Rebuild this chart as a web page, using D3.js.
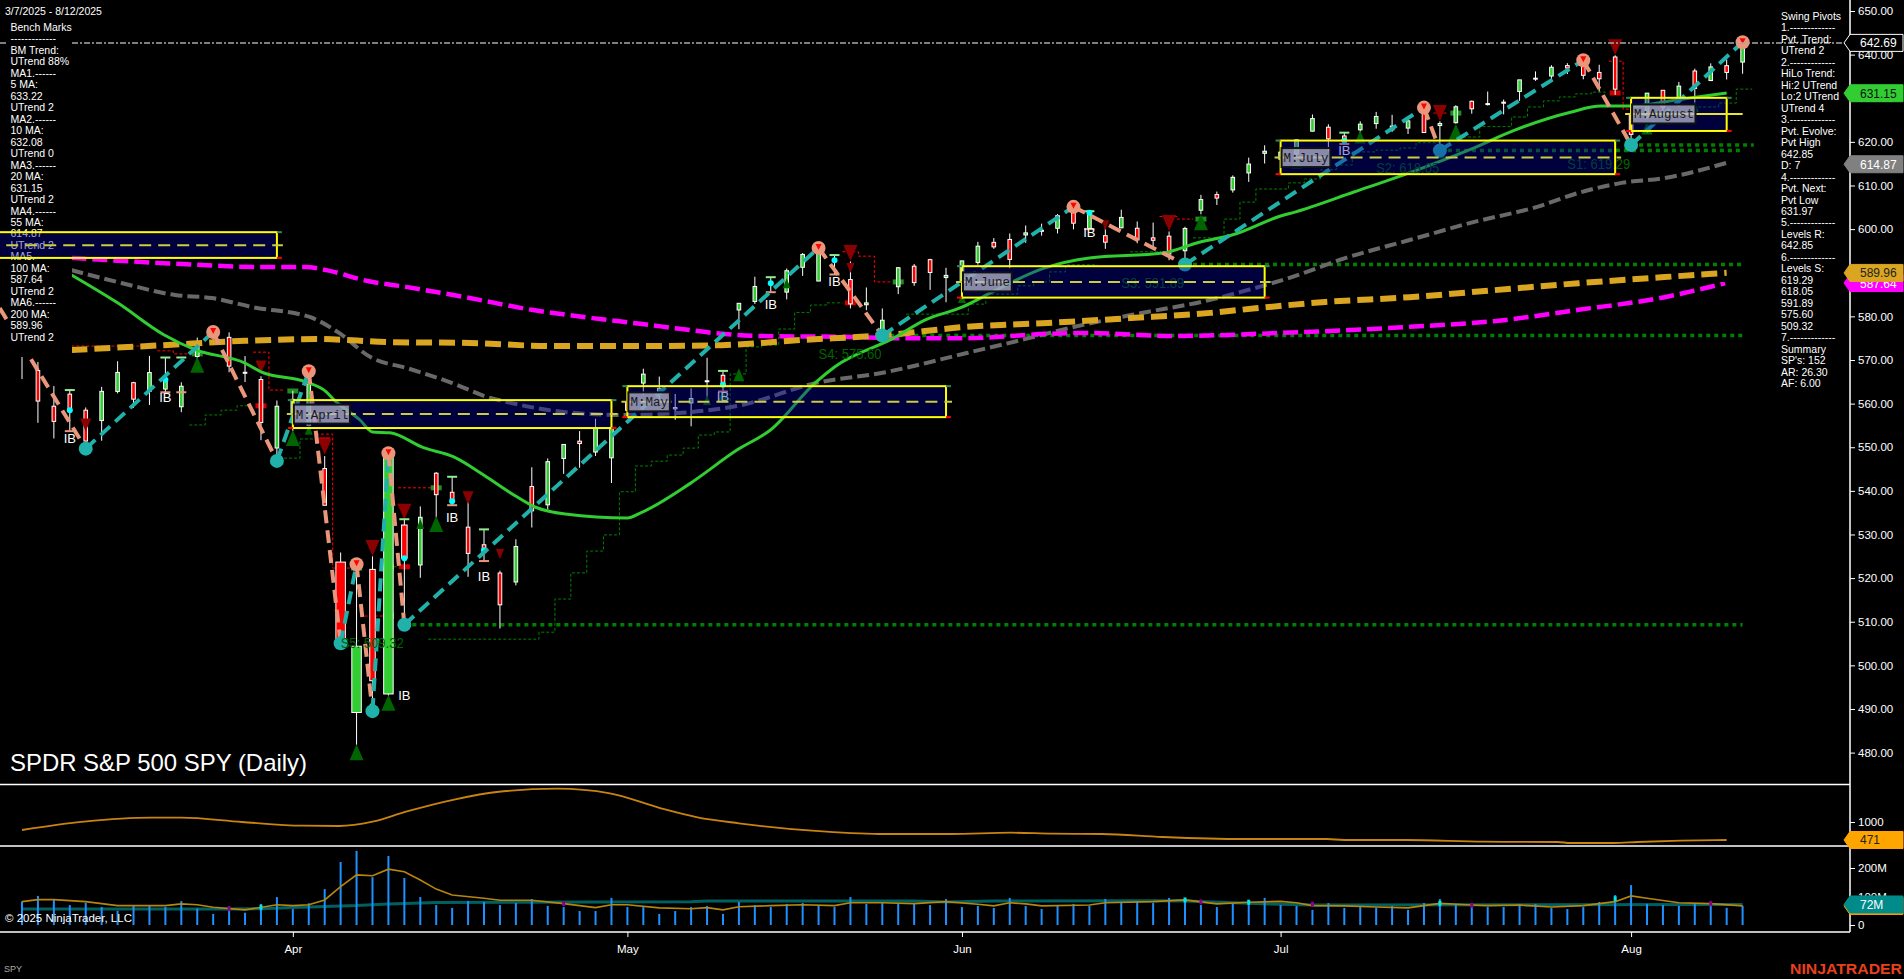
<!DOCTYPE html>
<html lang="en">
<head>
<meta charset="UTF-8">
<title>SPDR S&amp;P 500 SPY (Daily)</title>
<script src="https://d3js.org/d3.v7.min.js"></script>
<style>
    html, body { margin: 0; padding: 0; background: #000; overflow: hidden; }
    svg { display: block; }
    text { font-family: "Liberation Sans", Arial, sans-serif; fill: #fff; }
    .domain { display: none; }
    .tick line { stroke: #fff; }
    .tick text { font-family: "Liberation Sans", Arial, sans-serif; font-size: 11.5px; fill: #fff; }
</style>
</head>
<body>
<script>
// daily bars, 3/7/2025 - 8/12/2025
const opens = [570.9,567.59,559.4,562.17,558.49,556.11,562.79,564.8,562.83,563.33,559.28,570.8,575.3,575.19,567.18,565.53,549.83,557.45,555.05,545.11,523.67,489.19,522,493.44,532.17,523.01,544.05,539.67,531.68,527.64,521.16,519.11,541,536.8,547.41,551.39,548.9,547.57,560.37,564.7,562.17,559.1,560.15,565.24,566.5,581.47,583.41,587.81,585.56,591.25,588.1,593.09,588.44,582.66,575.98,586.79,591.49,593,588.9,587.76,592.34,596.96,597.63,598.66,599.72,600.18,604.98,600.01,598.5,600.3,600.2,598,598.38,595.04,604.33,607.91,608.99,612.88,617.38,616.04,617.24,622.45,623.36,621.35,622.77,624.2,622.74,623.16,627.52,623.74,624.4,629.3,628.77,629.1,631.55,634.6,635.09,637.48,638.35,635.92,639.46,626.3,625.67,631.82,629.2,636.25,634.06,637.47,638.29];
const highs = [577.39,569.54,564.02,563.11,559.11,563.83,569.71,564.99,570.95,570.57,564.89,575.15,576.41,576.33,570.9,566.27,560.71,562.94,567.42,547.97,525.87,523.17,524.98,548.62,533.5,536.43,544.28,543.23,537.89,531.17,521.7,528.91,545.4,547.43,550.69,553.7,556.52,557.5,563.95,568,566.2,562.2,563.5,570.5,567.5,583,589.08,588.98,590.97,594.5,594.99,594.05,592.6,586.62,581.82,591.31,592,593.2,591.13,592.79,597.08,597.95,599,600.83,601.25,603.47,605.9,604.1,601.85,604.45,601.75,601.5,599.46,600.54,607.85,608.61,612.31,616.39,619.22,618.83,620.49,626.28,624.03,622.11,624.72,626.87,626.2,625.16,627.86,624.73,628.4,629.47,631.54,629.7,634.21,636.15,637.58,638.04,638.67,637.68,639.85,626.34,631.22,631.91,633.74,636.79,638,638.9,642.85];
const lows = [565.63,555.59,552.02,553.69,549.68,551.49,562.35,559,559.67,562.6,558.03,570.2,573.69,567.19,564.94,551.61,546.87,553.68,554.81,536.7,505.06,481.8,489.5,493,509.32,520.07,533.88,536.71,520.29,523.91,508.46,518.33,531.6,535.7,543.9,545.3,548,541.8,557,562,561,556.3,554.8,560.8,562.76,577.04,582.84,585.54,583.88,589.28,588.09,589.6,581.82,581.41,575.6,585.1,586.99,586.07,583.24,585.06,591.85,595.49,591.05,596.86,598.5,599,599.95,600,595.48,600.22,596.76,595.9,592.86,591.89,603.41,605.54,608.37,610.83,615.04,615.52,616.61,622.43,617.87,619.52,620.91,623.01,622.3,621.8,622.1,618.05,624.18,626.46,628.34,626.3,629.4,633.99,634.2,635.54,634.34,631.54,630.77,619.29,625.27,627,628,629,633.92,634.3,635.62];
const closes = [575.72,560.58,555.92,558.47,551.42,562.81,567.15,561.02,567.13,565.49,563.98,574.08,575.46,568.59,567.08,555.66,559.39,560.97,564.52,536.7,505.28,504.38,496.48,548.62,524.58,533.94,539.12,537.61,525.66,526.41,513.88,527.25,535.42,546.69,550.64,550.85,554.32,554.54,558.47,566.76,563.51,558.8,561.15,565.06,564.34,582.99,586.84,587.59,590.46,594.2,594.85,592.85,582.86,583.09,579.11,591.15,587.73,590.05,589.39,592.71,596.09,595.93,593.05,599.14,599.68,603.08,601.36,603.75,597,602.68,597.53,597.44,594.28,600.15,606.78,607.12,611.87,614.91,617.85,617.65,620.45,625.34,620.68,620.34,624.06,625.82,623.62,624.81,622.14,624.22,628.04,627.58,628.77,628.86,634.21,634.42,637.1,636.94,635.26,634.46,632.08,621.72,631.17,627.97,632.78,632.25,637.18,635.92,642.69];
// wider bodies on the big range days: [bar, width]
const wideBars = [[20,9.5],[21,9.5],[22,5.5],[23,9.5],[24,5.5]];
// inside bars with the price their IB tag sits at
const insideBars = [[3,552.1],[9,561.5],[24,493.2],[27,534],[29,520.5],[44,561.7],[47,582.8],[51,588.1],[67,599.3],[83,618.1]];
const extraCaps = [[10,570.57,562.6]];

const volumes = [83,102,90,70,78,63,50,67,67,63,84,58,39,50,43,74,98,56,76,126,221,260,168,242,165,98,70,60,84,81,70,77,91,67,63,49,49,95,63,63,39,49,63,67,39,81,70,63,74,77,70,63,98,74,77,74,74,70,91,63,67,60,95,67,56,67,74,67,91,81,84,77,95,88,70,63,77,88,95,70,67,53,77,60,67,60,67,53,77,91,70,67,63,63,74,74,60,56,63,81,105,140,74,70,67,77,70,60,67];
const volAvg = [[0,82],[1,89],[2,89],[4,82],[6,68],[9,68],[10,74],[11,71],[12,62],[14,53],[16,71],[17,68],[18,71],[19,88],[20,135],[21,176],[22,173],[23,196],[24,187],[25,158],[26,126],[27,105],[29,94],[30,87],[32,87],[34,75],[36,61],[37,71],[38,71],[40,60],[42,57],[43,61],[44,53],[45,64],[47,68],[49,71],[51,68],[52,78],[54,78],[56,75],[58,82],[60,73],[61,67],[62,78],[63,74],[64,67],[67,70],[68,78],[71,82],[73,88],[75,74],[77,80],[79,83],[80,78],[81,68],[83,67],[85,63],[87,60],[89,76],[91,70],[92,68],[94,70],[96,63],[98,68],[100,82],[101,102],[102,94],[104,78],[106,75],[108,67]];
const volBase = [[0,56],[13,56],[15,57],[17,61],[21,68],[23,74],[26,79],[42,82],[43,84],[56,84],[58,81],[61,84],[71,85],[73,84],[77,76],[81,70],[108,72]];
const volPurple = [13,34,74,81,91,106];
const volCyan = [15,73,77,89,100];
const indicator = [[0,765],[3.9,1009],[8.1,1126],[10,1126],[13.8,1000],[17.6,891],[19.9,882],[22,1009],[24.1,1303],[27.2,1668],[29.8,1882],[33.6,1979],[36.9,1844],[40.1,1403],[42.4,1138],[45,962],[49.6,744],[53.8,647],[58.3,647],[62.1,685],[64.7,656],[67.8,647],[71.6,559],[76.6,500],[81.9,500],[83,471],[86.9,471],[91.8,421],[96.4,412],[97.2,382],[99.9,382],[101.4,412],[104.1,450],[107,471]];

const ma20 = [[3.1,589.5],[6,583.1],[8.9,575.8],[10.9,572.3],[14,569.3],[15,567.3],[17.8,565],[19.1,562.7],[19.6,560.8],[21.2,556.3],[22,553.5],[23.1,553.3],[25.2,549.9],[27.1,547.8],[29,543.6],[30.9,539],[32.2,536.3],[34.1,534.7],[38,533.8],[38.8,534.9],[41.9,541.6],[44.9,549.4],[47,554],[49.8,564.8],[51,568.4],[54.7,575],[56.7,579.2],[59,582.1],[60.8,585.4],[64.2,591.1],[67,593.4],[71.6,594.5],[73.9,597],[76,598.7],[79,603],[79.9,603.9],[83.6,608.5],[87.6,613.6],[90.8,618.1],[93.7,622.7],[97.2,626.8],[99.1,628.2],[101,628.2],[103.8,629.6],[107,631.2]];
const ma55 = [[3.1,590.6],[6.3,587.6],[9.6,584.9],[11.9,584.2],[14.5,582.1],[18.1,579.8],[19.9,576.2],[21.9,570.6],[24.2,568.1],[26.8,565],[29.4,561.3],[30.4,560.4],[34.5,557.9],[37.8,557.4],[41.4,557.9],[45.2,559.7],[49.8,564.7],[54.2,567.2],[59.3,571.6],[63.2,575],[65.7,577.3],[69.6,580.3],[74.6,583.8],[76.5,585.6],[79.7,589],[83.1,593.4],[87.1,597.5],[91.1,601.6],[95.1,605.1],[97.7,608.3],[100.4,610.6],[103.1,611.7],[107,615.2]];
const ma100 = [[3.1,593.4],[8.9,592.2],[15.3,591.3],[17.8,591.3],[19.1,590.6],[21.7,588.1],[24.2,586.7],[28.1,584.2],[32,581.5],[35.8,579.6],[38.8,578.3],[41.4,577.1],[43.9,576],[46.5,575.5],[51.6,575.3],[55.2,575],[59.3,575],[64.4,576],[67,576.2],[72.1,575.5],[79,576.2],[81.8,576.6],[87.1,577.6],[92.4,578.9],[97.7,581.5],[103.1,584.4],[106.9,587.6]];
const ma200 = [[3.1,572.3],[8.9,573.4],[14,574.4],[18.6,574.8],[23,574.1],[28.1,573.9],[33.2,573.2],[38.8,573.2],[43.9,573.4],[49,574.6],[54.2,575.7],[59.3,577.6],[64.4,578.5],[69.6,579.6],[74.6,580.8],[76.5,581.5],[81.8,583.3],[87.1,584.4],[92.4,586],[97.7,587.6],[103.1,589],[107,590]];

// swing pivots, high/low alternate
const pivots = [[-1.4,581.9],[4,549.68],[12,576.41],[16,546.87],[18,567.42],[20,505.06],[21,523.17],[22,489.5],[23,548.62],[24,509.32],[50,595.7],[54,575.6],[66,605.1],[73,591.89],[88,627.86],[89,618.05],[98,638.7],[101,619.29],[108,642.85]];
// support levels: price, first bar, last bar
const supports = [[509.32,24,108],[575.6,54,108],[591.89,73,108],[618.05,89,108],[619.29,101,108.7]];
const supportLabels = [["S5: 509.32",20,504],["S4: 575.60",50,570.2],["S3: 591.89",69,586.5],["S2: 618.05",85,612.9],["S1: 619.29",97,613.8]];

const stopRuns = [
    [[10.5,555.1],[11.5,557.4],[12.5,558.5],[13.5,559.5],[14.25,559.5]],
    [[16.45,547.5],[17.45,551.9],[18.45,551.9]],
    [[22.7,522.6],[23.7,522.6]],
    [[25.5,506],[32.45,507.6],[33.45,515.2],[34.45,521.2],[35.45,526.2],[36.5,529.9],[37.5,539.8],[38.5,545.7],[39.5,546.8],[40.5,548.2],[41.5,549.8],[42.45,552.8],[43.45,553.5],[44.45,566.8],[45.45,573],[46.45,573.4],[47.5,577.1],[48.5,580.9],[49.5,582.6],[50.5,583.1],[51.5,583.1]],
    [[55.5,580.5],[59.4,582.8],[60.5,585.1],[62.5,587],[63.5,587.9],[64.5,590.2],[65.5,591.8],[67.5,591.8]],
    [[69.55,594.8],[71.5,594.8]],
    [[73.5,598],[75.45,602.3],[76.45,606.2],[77.45,609.2],[79.5,610.6],[80.5,611.5],[81.5,613.6],[82.5,614.7],[83.5,617.7],[85,618.1],[86.5,618.6],[87.5,619.8],[89,619.8]],
    [[90.45,621.1],[91.5,623.5],[93.5,625.7],[94.5,628],[95.5,629.4],[96.5,630.3],[97.5,631],[98.5,631.4],[99.4,631.4]],
    [[104.9,628],[106.5,628.9],[107.6,632.1],[108.6,632.1]]
];
const exitRuns = [
    [[3.1,573.2],[7.4,573.2]],
    [[8.5,572.1],[9.5,571.4],[10.5,571.4]],
    [[14.5,571.8],[15.5,563.1],[16.5,563.1]],
    [[18.45,553],[19.5,522.3],[20.9,522.3]],
    [[21.5,511.3],[23,511.3]],
    [[23.6,540.7],[25.7,540.7]],
    [[51.5,594.8],[52.5,593.8],[53.5,587.9],[54.6,587.9]],
    [[71.4,602.9],[72.5,602.3],[73.5,602.3]],
    [[88.6,626.6],[89.5,626.6]],
    [[99.6,638.5],[100.5,627.5],[101,627.5]]
];
// [bar, price, size] size 0 small, 1 medium, 2 big
const upMarks = [[4,550.3,0],[11,568.9,2],[16,546.6,0],[17,552.1,2],[18,554,0],[21,480.1,2],[23,491.4,2],[25,532.4,0],[26,532.4,2],[43,560.8,0],[44,561.7,1],[45,566.6,1],[48,587.6,0],[59,584.2,0],[74,601.6,2],[80,615.4,1],[84,621.1,1],[89,617.7,1],[90,622.3,2],[102,623.2,1],[105,628,0]];
const downMarks = [[4,555.1,1],[15,568.4,1],[19,550.1,2],[22,526.9,2],[24,535.2,2],[28,538.4,1],[30,525.5,0],[52,594.5,2],[52,591.1,0],[68,600.9,0],[72,601.4,2],[89,626.6,2],[100,641.7,2]];
const greenSquares = [[11,571.4],[17,562.9],[21,522.3],[23,522.6],[23,511.3],[26,540.7],[55,587.9],[74,602.3],[90,626.6]];
const redSquares = [[15,559.5],[19,551.7],[24,522.6],[52,583.1],[100,631.2]];

// monthly ranges: name, first bar, last bar, high, mid, low
const monthNames = ["March","April","May","June","July","August"];
const monthFirst = [-3,17,38,59,79,101];
const monthLast = [16,37,58,78,100,107];
const monthHigh = [599.3,560.8,564,591.5,620.3,630.1];
const monthMid = [596.3,557.6,560.4,587.9,616.4,626.4];
const monthLow = [593.4,554.4,556.9,584.3,612.6,622.5];

const priceTicks = d3.range(480, 651, 10);
const monthTicks = [["Apr",17],["May",38],["Jun",59],["Jul",79],["Aug",101]];
const benchText = ["Bench Marks","-------------","BM Trend:","UTrend 88%","MA1.------","5 MA:","633.22","UTrend 2","MA2.------","10 MA:","632.08","UTrend 0","MA3.------","20 MA:","631.15","UTrend 2","MA4.------","55 MA:","614.87","UTrend 2","MA5.------","100 MA:","587.64","UTrend 2","MA6.------","200 MA:","589.96","UTrend 2"];
const pivotText = ["Swing Pivots","1.-------------","Pvt. Trend:","UTrend 2","2.-------------","HiLo Trend:","Hi:2 UTrend","Lo:2 UTrend","UTrend 4","3.-------------","Pvt. Evolve:","Pvt High","642.85","D: 7","4.-------------","Pvt. Next:","Pvt Low","631.97","5.-------------","Levels R:","642.85","6.-------------","Levels S:","619.29","618.05","591.89","575.60","509.32","7.-------------","Summary","SP's: 152","AR: 26.30","AF: 6.00"];

const width = 1904, height = 979, axisX = 1850;
const x = d3.scaleLinear().domain([0, 108]).range([22, 1742.6]);
const y = d3.scaleLinear().domain([480, 650]).range([752.6, 11]);
const yInd = d3.scaleLinear().domain([0, 1000]).range([856, 822]);
const yVol = d3.scaleLinear().domain([0, 200]).range([925, 868]);

const svg = d3.select("body").append("svg").attr("width", width).attr("height", height);
svg.append("rect").attr("width", width).attr("height", height).attr("fill", "#000");
svg.append("defs").append("clipPath").attr("id", "pane")
    .append("rect").attr("width", axisX).attr("height", 784);
const pane = svg.append("g").attr("clip-path", "url(#pane)");

const bars = opens.map((o, i) => ({i, o, h: highs[i], l: lows[i], c: closes[i]}));
const bodyWidth = i => { const w = wideBars.find(d => d[0] === i); return w ? w[1] : 3.6; };
const pts = d3.line().x(d => x(d[0])).y(d => y(d[1]));
const smooth = d3.line().x(d => x(d[0])).y(d => y(d[1])).curve(d3.curveMonotoneX);
const steps = d3.line().x(d => x(d[0])).y(d => y(d[1])).curve(d3.curveStepAfter);

// thin step lines under the candles
pane.append("g").selectAll("path").data(stopRuns).join("path")
    .attr("d", steps).attr("fill", "none").attr("stroke", "#008000").attr("stroke-dasharray", "3,2");
pane.append("g").selectAll("path").data(exitRuns).join("path")
    .attr("d", steps).attr("fill", "none").attr("stroke", "#ff0000").attr("stroke-dasharray", "3,2");

// support levels
pane.append("g").selectAll("line").data(supports).join("line")
    .attr("x1", d => x(d[1])).attr("x2", d => x(d[2]))
    .attr("y1", d => y(d[0])).attr("y2", d => y(d[0]))
    .attr("stroke", "#008000").attr("stroke-width", 3.5).attr("stroke-dasharray", "4,4");

// squares sit behind the candles
const square = (data, color) => pane.append("g").selectAll("rect").data(data).join("rect")
    .attr("x", d => x(d[0]) - 5.5).attr("y", d => y(d[1]) - 2.5)
    .attr("width", 11).attr("height", 5).attr("fill", color);
square(greenSquares, "#228b22");
square(redSquares, "#cc0000");

// candles
const candle = pane.append("g").selectAll("g").data(bars).join("g");
candle.append("line")
    .attr("x1", d => x(d.i)).attr("x2", d => x(d.i))
    .attr("y1", d => y(d.h)).attr("y2", d => y(d.l))
    .attr("stroke", "#fff");
candle.append("rect")
    .attr("x", d => x(d.i) - bodyWidth(d.i) / 2)
    .attr("width", d => bodyWidth(d.i))
    .attr("y", d => y(Math.max(d.o, d.c)))
    .attr("height", d => Math.max(1, Math.abs(y(d.o) - y(d.c))))
    .attr("fill", d => d.c >= d.o ? "#32cd32" : "#ff0000")
    .attr("stroke", "#fff");

// triangles
const triSize = [[4, 10], [5.5, 13], [7, 16]];
const triangle = (data, dir, color) => pane.append("g").selectAll("path").data(data).join("path")
    .attr("d", d => {
        const [w, h] = triSize[d[2]], px = x(d[0]), py = y(d[1]);
        return `M${px - w},${py + dir * h / 2}L${px + w},${py + dir * h / 2}L${px},${py - dir * h / 2}Z`;
    })
    .attr("fill", color);
triangle(upMarks, 1, "#006400");
triangle(downMarks, -1, "#8b0000");

// inside bars: caps at high and low, dot at the close, IB tag
const inside = pane.append("g").selectAll("g").data(insideBars).join("g");
const capLine = (sel, bar, price, color) => sel.append("line")
    .attr("x1", d => x(bar(d)) - 5).attr("x2", d => x(bar(d)) + 5)
    .attr("y1", d => y(price(d))).attr("y2", d => y(price(d)))
    .attr("stroke", color).attr("stroke-width", 2);
capLine(inside, d => d[0], d => highs[d[0]], "#90ee90");
capLine(inside, d => d[0], d => lows[d[0]], "#e9967a");
const extra = pane.append("g").selectAll("g").data(extraCaps).join("g");
capLine(extra, d => d[0], d => d[1], "#90ee90");
capLine(extra, d => d[0], d => d[2], "#e9967a");
inside.append("circle").attr("cx", d => x(d[0])).attr("cy", d => y(closes[d[0]])).attr("r", 3).attr("fill", "#00ffff");
inside.append("text").attr("x", d => x(d[0])).attr("y", d => y(d[1]) + 5)
    .attr("text-anchor", "middle").attr("font-size", 13).text("IB");

// moving averages
const maLine = (data, color, w, dash) => pane.append("path").attr("d", smooth(data))
    .attr("fill", "none").attr("stroke", color).attr("stroke-width", w).attr("stroke-dasharray", dash);
maLine(ma55, "#696969", 4, "12,5");
maLine(ma100, "#ff00ff", 4.5, "15,6");
maLine(ma200, "#daa520", 6, "16,7");
maLine(ma20, "#32cd32", 3, null);

// swing legs and pivot dots
const legs = d3.pairs(pivots);
pane.append("g").selectAll("path").data(legs).join("path")
    .attr("d", pts).attr("fill", "none").attr("stroke-width", 4).attr("stroke-dasharray", "13,7")
    .attr("stroke", d => d[1][1] > d[0][1] ? "#20b2aa" : "#e9967a");
const pivotDots = pivots.slice(1).map((d, k) => ({i: d[0], p: d[1], top: k % 2 === 1}));
pane.append("g").selectAll("circle").data(pivotDots).join("circle")
    .attr("cx", d => x(d.i)).attr("cy", d => y(d.p)).attr("r", 7)
    .attr("fill", d => d.top ? "#e9967a" : "#20b2aa");
pane.append("g").selectAll("path").data(pivotDots.filter(d => d.top)).join("path")
    .attr("d", d => `M${x(d.i) - 3},${y(d.p) - 4}L${x(d.i) + 3},${y(d.p) - 4}L${x(d.i)},${y(d.p) + 2}Z`)
    .attr("fill", "#ff0000");

// support labels go over the candles and legs, under the month boxes
pane.append("g").selectAll("text").data(supportLabels).join("text")
    .attr("x", d => x(d[1])).attr("y", d => y(d[2]))
    .attr("font-size", 15).attr("textLength", 63).attr("lengthAdjust", "spacingAndGlyphs")
    .style("fill", "#006400").text(d => d[0]);

// last price line
pane.append("line").attr("x1", 0).attr("x2", axisX)
    .attr("y1", y(closes[closes.length - 1])).attr("y2", y(closes[closes.length - 1]))
    .attr("stroke", "#a9a9a9").attr("stroke-width", 1.5).attr("stroke-dasharray", "6,2,2,2");

// black text boxes on top of the plot
pane.append("rect").attr("x", 8).attr("y", 0).attr("width", 64).attr("height", 357).attr("fill", "#000");
svg.append("rect").attr("x", 0).attr("y", 0).attr("width", 120).attr("height", 18).attr("fill", "#000");
svg.append("text").attr("x", 5).attr("y", 15).attr("font-size", 10.5).text("3/7/2025 - 8/12/2025");
svg.append("g").selectAll("text").data(benchText).join("text")
    .attr("x", 10.5).attr("y", (d, i) => 31 + i * 11.47).attr("font-size", 10.5).text(d => d);
svg.append("g").selectAll("text").data(pivotText).join("text")
    .attr("x", 1781).attr("y", (d, i) => 20 + i * 11.47).attr("font-size", 10.5).text(d => d);

// monthly range boxes, see-through so candles and lines still show
const months = monthNames.map((name, k) => ({name, first: monthFirst[k], last: monthLast[k], hi: monthHigh[k], mid: monthMid[k], lo: monthLow[k]}));
const box = svg.append("g").selectAll("g").data(months).join("g");
box.append("rect")
    .attr("x", d => x(d.first)).attr("width", d => x(d.last) - x(d.first))
    .attr("y", d => y(d.hi)).attr("height", d => y(d.lo) - y(d.hi))
    .attr("fill", "rgba(0,0,170,0.36)").attr("stroke", "#ffff00").attr("stroke-width", 2);
box.append("line")
    .attr("x1", d => x(d.first) - 6).attr("x2", d => x(d.last) + (d.name === "August" ? 16 : 6))
    .attr("y1", d => y(d.mid)).attr("y2", d => y(d.mid))
    .attr("stroke", d => d.name === "August" ? "#e6e632" : "#cccc44").attr("stroke-width", 2)
    .attr("stroke-dasharray", d => d.name === "August" ? null : "12,7");
// little end ticks at the box corners
[[d => d.hi, "#2e8b57"], [d => d.lo, "#ff0000"]].forEach(([lev, color]) => {
    box.append("line").attr("x1", d => x(d.last)).attr("x2", d => x(d.last) + 5)
        .attr("y1", d => y(lev(d))).attr("y2", d => y(lev(d))).attr("stroke", color).attr("stroke-width", 2);
    box.append("line").attr("x1", d => x(d.first) - 5).attr("x2", d => x(d.first))
        .attr("y1", d => y(lev(d))).attr("y2", d => y(lev(d))).attr("stroke", color).attr("stroke-width", 2);
});
// labels, March has scrolled off to the left
const tagged = box.filter(d => d.name !== "March");
tagged.append("rect")
    .attr("x", d => x(d.first) + 1).attr("y", d => y(d.mid) - 9.5)
    .attr("width", d => 5 + (d.name.length + 2) * 7.3).attr("height", 19)
    .attr("fill", "rgba(175,175,200,0.78)").attr("stroke", "#111").attr("stroke-width", 2);
tagged.append("text")
    .attr("x", d => x(d.first) + 3).attr("y", d => y(d.mid) + 4.5)
    .attr("font-size", 12.5).style("font-family", "'Liberation Mono', monospace").style("fill", "#1a1a1a")
    .text(d => "M:" + d.name);

// indicator pane
svg.append("path").attr("d", d3.line().x(d => x(d[0])).y(d => yInd(d[1])).curve(d3.curveMonotoneX)(indicator))
    .attr("fill", "none").attr("stroke", "#c9830f").attr("stroke-width", 1.8);

// volume pane
svg.append("path").attr("d", d3.line().x(d => x(d[0])).y(d => yVol(d[1]))(volBase))
    .attr("fill", "none").attr("stroke", "#006060").attr("stroke-width", 3);
svg.append("g").selectAll("rect").data(volumes).join("rect")
    .attr("x", (d, i) => x(i) - 1).attr("width", 2)
    .attr("y", d => yVol(d)).attr("height", d => yVol(0) - yVol(d))
    .attr("fill", "#1e90ff");
svg.append("path").attr("d", d3.line().x(d => x(d[0])).y(d => yVol(d[1]))(volAvg))
    .attr("fill", "none").attr("stroke", "#b8860b").attr("stroke-width", 1.6);
const volDot = (list, color) => svg.append("g").selectAll("rect").data(list).join("rect")
    .attr("x", i => x(i) - 1.5).attr("width", 3)
    .attr("y", i => yVol(d3.mean(volAvg.filter(d => Math.abs(d[0] - i) < 2), d => d[1])) - 2.5).attr("height", 5)
    .attr("fill", color);
volDot(volPurple, "#8b008b");
volDot(volCyan, "#00e5e5");

svg.append("text").attr("x", 5).attr("y", 922).attr("font-size", 11.5).text("© 2025 NinjaTrader, LLC");
svg.append("text").attr("x", 10).attr("y", 771).attr("font-size", 24).attr("textLength", 297)
    .attr("lengthAdjust", "spacingAndGlyphs").text("SPDR S&P 500 SPY (Daily)");

// frame
[784.5, 846, 932].forEach(v => svg.append("line").attr("x1", 0).attr("x2", axisX).attr("y1", v).attr("y2", v)
    .attr("stroke", "#fff").attr("stroke-width", 1.5));
svg.append("line").attr("x1", axisX).attr("x2", axisX).attr("y1", 0).attr("y2", 932)
    .attr("stroke", "#fff").attr("stroke-width", 1.5);

// axes
svg.append("g").attr("transform", `translate(${axisX},0)`)
    .call(d3.axisRight(y).tickValues(priceTicks).tickSize(5).tickFormat(d3.format(".2f")));
svg.append("g").attr("transform", `translate(${axisX},0)`)
    .call(d3.axisRight(yInd).tickValues([1000]).tickSize(5).tickFormat(d => d));
svg.append("g").attr("transform", `translate(${axisX},0)`)
    .call(d3.axisRight(yVol).tickValues([0, 100, 200]).tickSize(5).tickFormat(d => d ? d + "M" : "0"));
svg.append("g").attr("transform", "translate(0,932)")
    .call(d3.axisBottom(x).tickValues(monthTicks.map(d => d[1])).tickSize(5)
        .tickFormat(v => monthTicks.find(d => d[1] === v)[0]))
    .selectAll("text").attr("dy", "1.1em");

// price tags on the axis
const tag = (py, fill, ink, label, stroke) => {
    svg.append("path").attr("d", `M${axisX - 6},${py}L${axisX},${py - 8.5}H1903V${py + 8.5}H${axisX}Z`)
        .attr("fill", fill).attr("stroke", stroke || fill);
    if (label) svg.append("text").attr("x", 1860).attr("y", py + 4.5).attr("font-size", 12).style("fill", ink).text(label);
};
tag(y(587.64), "#ff00ff", "#fff", "587.64");
tag(y(589.96), "#daa520", "#222", "589.96");
tag(y(614.87), "#808080", "#fff", "614.87");
tag(y(631.15), "#32cd32", "#111", "631.15");
tag(y(642.69), "#000", "#fff", "642.69", "#fff");
tag(yInd(471), "#ffa500", "#222", "471");
tag(yVol(67), "#ffa500", "#222", "");
tag(yVol(72), "#008b8b", "#fff", "72M");

svg.append("text").attr("x", 4).attr("y", 972).attr("font-size", 9).style("fill", "#aaa").text("SPY");
svg.append("text").attr("x", 1902).attr("y", 974).attr("text-anchor", "end").attr("font-size", 15)
    .attr("font-weight", "bold").attr("textLength", 112).attr("lengthAdjust", "spacingAndGlyphs")
    .style("fill", "#e8401c").text("NINJATRADER");
</script>
</body>
</html>
